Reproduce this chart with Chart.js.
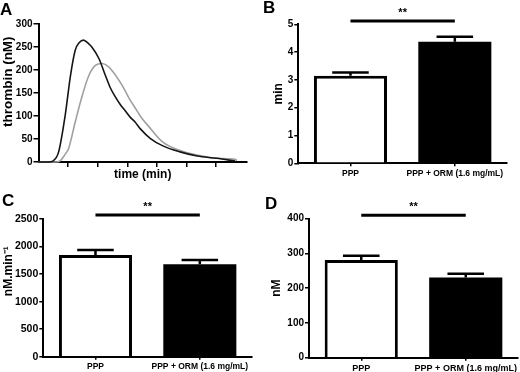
<!DOCTYPE html>
<html>
<head>
<meta charset="utf-8">
<script src="https://cdn.jsdelivr.net/npm/chart.js@4.4.1/dist/chart.umd.min.js"></script>
<style>
  html, body { margin: 0; padding: 0; background: #fff; }
  #wrap { position: relative; width: 520px; height: 372px; }
  .panel { position: absolute; width: 260px; height: 186px; }
</style>
</head>
<body>
<div id="wrap">
  <div class="panel" style="left:0;top:0"><canvas id="chartA" width="260" height="186"></canvas></div>
  <div class="panel" style="left:260px;top:0"><canvas id="chartB" width="260" height="186"></canvas></div>
  <div class="panel" style="left:0;top:186px"><canvas id="chartC" width="260" height="186"></canvas></div>
  <div class="panel" style="left:260px;top:186px"><canvas id="chartD" width="260" height="186"></canvas></div>
</div>
<script>
var timeBlack = [0, 1.7, 2.4, 3.4, 4.5, 5.4, 6.2, 6.9, 7.6, 8.4, 9.0, 10.2, 11.3, 12.1, 13.0, 13.8, 14.6, 15.5, 16.3, 17.2, 18.9, 21.0, 23.9, 26.8, 30.1, 33.2];
var thrombinBlack = [0, 0, 2, 22, 101, 188, 243, 260, 265, 258, 250, 225, 188, 162, 141, 125, 112, 97, 87, 72, 51, 35, 22, 13, 8, 2];
var timeGray = [0, 2.9, 3.7, 4.4, 5.1, 6.2, 7.4, 8.5, 9.6, 10.7, 11.4, 12.4, 14.1, 15.5, 16.3, 17.3, 18.9, 21.0, 23.9, 26.8, 30.1, 33.2, 33.5];
var thrombinGray = [0, 0, 3, 15, 30, 87, 145, 188, 210, 214, 211, 199, 167, 134, 118, 98, 73, 43, 25, 15, 8, 6, 3];
var timeTicks = [5, 10, 15, 20, 25, 30];
var thrombinTicks = [0, 50, 100, 150, 200, 250, 300];

// panels B-D
var groups = ["PPP", "PPP + ORM (1.6 mg/mL)"];
var lagTime = [3.15, 4.37];
var lagTimeErr = [0.12, 0.18];
var velocity = [1846, 1677];
var velocityErr = [90, 78];
var peakHeight = [281, 231];
var peakHeightErr = [12.5, 10.7];
var sigLagTime = 5.12;
var sigVelocity = 2572;
var sigPeak = 410;

var FONT = "'Liberation Sans', Arial, Helvetica, sans-serif";

var marksPlugin = {
  id: "panelMarks",
  afterDatasetsDraw: function (chart, args, opts) {
    var ctx = chart.ctx;
    var y = chart.scales.y;
    ctx.save();
    ctx.strokeStyle = "#000";
    ctx.fillStyle = "#000";
    if (opts.errors) {
      var meta = chart.getDatasetMeta(0);
      var vals = chart.data.datasets[0].data;
      meta.data.forEach(function (bar, i) {
        var top = y.getPixelForValue(vals[i] + opts.errors[i]);
        var half = bar.width / 4;
        ctx.lineWidth = 2.5;
        ctx.beginPath();
        ctx.moveTo(bar.x, bar.y);
        ctx.lineTo(bar.x, top);
        ctx.moveTo(bar.x - half, top);
        ctx.lineTo(bar.x + half, top);
        ctx.stroke();
      });
      // significance bar between the two groups
      var sy = y.getPixelForValue(opts.sig);
      var x0 = meta.data[0].x, x1 = meta.data[1].x;
      ctx.lineWidth = 3;
      ctx.beginPath();
      ctx.moveTo(x0, sy);
      ctx.lineTo(x1, sy);
      ctx.stroke();
      ctx.font = "bold 11px " + FONT;
      ctx.textAlign = "center";
      ctx.textBaseline = "alphabetic";
      ctx.fillText("**", (x0 + x1) / 2, sy - 5);
    }
    ctx.font = "bold 17px " + FONT;
    ctx.textAlign = "left";
    ctx.textBaseline = "alphabetic";
    ctx.fillText(opts.letter, opts.lx, opts.ly);
    ctx.restore();
  }
};

function axisGrid(len) {
  return { display: true, drawOnChartArea: false, drawTicks: true, tickLength: len, color: "#000", lineWidth: 1.5 };
}

// line chart A
new Chart(document.getElementById("chartA").getContext("2d"), {
  type: "line",
  data: {
    datasets: [
      {
        data: timeBlack.map(function (t, i) { return { x: t, y: thrombinBlack[i] }; }),
        borderColor: "#151515",
        borderWidth: 1.6,
        pointRadius: 0,
        cubicInterpolationMode: "monotone",
        clip: false
      },
      {
        data: timeGray.map(function (t, i) { return { x: t, y: thrombinGray[i] }; }),
        borderColor: "#a0a0a0",
        borderWidth: 1.6,
        pointRadius: 0,
        cubicInterpolationMode: "monotone",
        clip: false
      }
    ]
  },
  options: {
    responsive: false,
    devicePixelRatio: 1,
    animation: false,
    events: [],
    layout: { padding: { top: 24, right: 13, left: 0, bottom: 0 } },
    plugins: {
      legend: { display: false },
      tooltip: { enabled: false },
      panelMarks: { letter: "A", lx: 0, ly: 15 }
    },
    scales: {
      x: {
        type: "linear",
        min: 0,
        max: 35.2,
        afterBuildTicks: function (s) { s.ticks = timeTicks.map(function (v) { return { value: v }; }); },
        ticks: { display: false },
        grid: axisGrid(5),
        border: { color: "#000", width: 2 },
        title: { display: true, text: "time (min)", color: "#000", font: { family: FONT, weight: "bold", size: 12 }, padding: { top: 0, bottom: 4 } },
        afterFit: function (s) { s.height = 24; s.paddingLeft = 0; s.paddingRight = 0; }
      },
      y: {
        min: 0,
        max: 300,
        afterBuildTicks: function (s) { s.ticks = thrombinTicks.map(function (v) { return { value: v }; }); },
        ticks: { color: "#000", padding: 1, font: { family: FONT, weight: "bold", size: 10 } },
        grid: axisGrid(5),
        border: { color: "#000", width: 2 },
        title: { display: true, text: "      thrombin (nM)", color: "#000", font: { family: FONT, weight: "bold", size: 13.5 }, padding: { top: 0, bottom: 0 } },
        afterFit: function (s) { s.width = 38.5; s.paddingTop = 0; s.paddingBottom = 0; }
      }
    }
  },
  plugins: [marksPlugin]
});

function barChart(id, values, errs, sig, yMax, yStep, yTitle, g) {
  return new Chart(document.getElementById(id).getContext("2d"), {
    type: "bar",
    data: {
      labels: groups,
      datasets: [{
        data: values,
        backgroundColor: ["#ffffff", "#000000"],
        borderColor: "#000",
        borderWidth: [3, 0],
        barPercentage: 0.7,
        categoryPercentage: 1
      }]
    },
    options: {
      responsive: false,
      devicePixelRatio: 1,
      animation: false,
      events: [],
      layout: { padding: { top: g.top, right: g.right, left: 0, bottom: 0 } },
      plugins: {
        legend: { display: false },
        tooltip: { enabled: false },
        panelMarks: { letter: g.letter, lx: g.lx, ly: g.ly, errors: errs, sig: sig }
      },
      scales: {
        x: {
          offset: true,
          grid: Object.assign(axisGrid(3), { offset: false }),
          border: { color: "#000", width: 2 },
          ticks: { color: "#000", padding: 2, maxRotation: 0, autoSkip: false, font: { family: FONT, weight: "bold", size: g.xFont } },
          afterFit: function (s) { s.height = g.axisH; s.paddingLeft = 0; s.paddingRight = 0; }
        },
        y: {
          min: 0,
          max: yMax,
          ticks: {
            stepSize: yStep,
            color: "#000",
            padding: 1,
            font: { family: FONT, weight: "bold", size: g.yFont },
            callback: function (value) { return String(value); }
          },
          grid: axisGrid(4),
          border: { color: "#000", width: 2 },
          title: { display: true, text: yTitle, color: "#000", font: { family: FONT, weight: "bold", size: 12 }, padding: { top: g.titlePad, bottom: 0 } },
          afterFit: function (s) { s.width = g.left; s.paddingTop = 0; s.paddingBottom = 0; }
        }
      }
    },
    plugins: [marksPlugin]
  });
}

barChart("chartB", lagTime, lagTimeErr, sigLagTime, 5, 1, "min",
  { top: 24.3, right: 13, left: 38.3, axisH: 22.7, xFont: 8.5, yFont: 10, titlePad: 11, letter: "B", lx: 3, ly: 13 });
barChart("chartC", velocity, velocityErr, sigVelocity, 2500, 500, "          nM.min\u207B\u00B9",
  { top: 33, right: 8, left: 43.3, axisH: 15.3, xFont: 8.5, yFont: 10.5, titlePad: 1, letter: "C", lx: 2, ly: 20 });
barChart("chartD", peakHeight, peakHeightErr, sigPeak, 400, 100, "nM",
  { top: 32.7, right: 2, left: 49, axisH: 14.3, xFont: 9, yFont: 10, titlePad: 9, letter: "D", lx: 5, ly: 23 });
</script>
</body>
</html>
